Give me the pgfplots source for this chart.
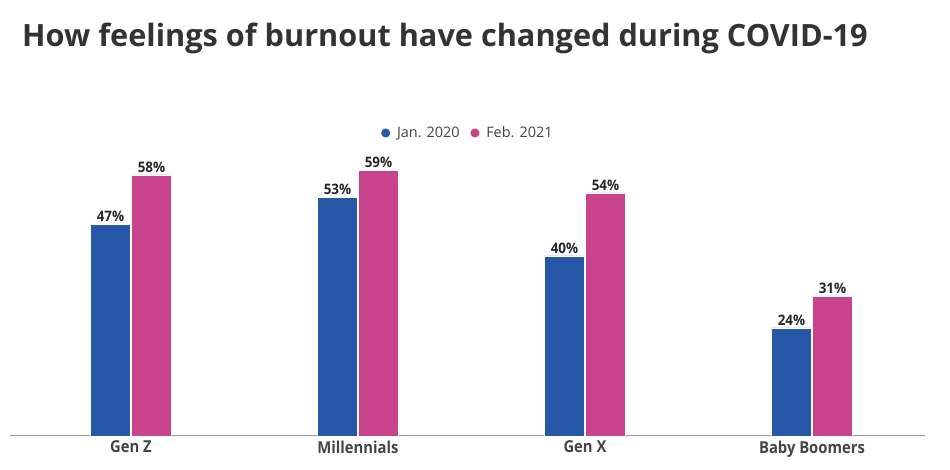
\documentclass[border=0pt]{standalone}
\usepackage{pgfplots}
\pgfplotsset{compat=1.18}
\usepackage{fontspec}
\setmainfont{Open Sans}
\newfontfamily\condbold[FakeStretch=0.9]{Open Sans Bold}
\newfontfamily\valbold[FakeStretch=0.93]{Open Sans Bold}
\definecolor{cblue}{HTML}{2757A7}
\definecolor{cpink}{HTML}{C8438B}
\definecolor{ctitle}{HTML}{333333}
\definecolor{ctext}{HTML}{444444}
\begin{document}
\begin{tikzpicture}[x=1bp,y=1bp]
\useasboundingbox (0,0) rectangle (950,470);
\node[anchor=base west,font=\fontsize{30.8}{36}\selectfont\bfseries,text=ctitle,inner sep=0] at (22,423) {How feelings of burnout have changed during COVID-19};
\begin{axis}[
  at={(10bp,34bp)}, anchor=south west,
  scale only axis, width=915bp, height=315bp,
  xmin=-0.533, xmax=3.498, ymin=0, ymax=70,
  axis x line=bottom, axis y line=none,
  axis line style={draw=gray!80, line width=1bp, -},
  xtick=data, xticklabels={Gen Z, Millennials, Gen X, Baby Boomers},
  xticklabel style={font=\condbold\fontsize{16.5}{18}\selectfont, text=ctext, yshift=-1bp},
  major tick length=0,
  ybar, bar width=40bp,
  nodes near coords={\pgfmathprintnumber[assume math mode=true]{\pgfplotspointmeta}\%},
  nodes near coords style={font=\valbold\fontsize{14.5}{16}\selectfont, text=black!85, yshift=-1bp},
  legend style={at={(0.5,1.0)}, yshift=-12bp, anchor=center, draw=none, legend columns=2,
    font=\fontsize{14.5}{16}\selectfont, text=ctext,
    /tikz/every odd column/.append style={column sep=4bp},
    /tikz/every even column/.append style={column sep=8bp}},
  legend image code/.code={\fill[#1] (0bp,0bp) circle (5bp);},
  clip=false,
]
\addplot[fill=cblue, draw=white, line width=0.6bp, bar shift=-20.5bp] coordinates {(0,47) (1,53) (2,40) (3,24)};
\addplot[fill=cpink, draw=white, line width=0.6bp, bar shift=20.5bp] coordinates {(0,58) (1,59) (2,54) (3,31)};
\legend{Jan. 2020, Feb. 2021}
\end{axis}
\end{tikzpicture}
\end{document}
